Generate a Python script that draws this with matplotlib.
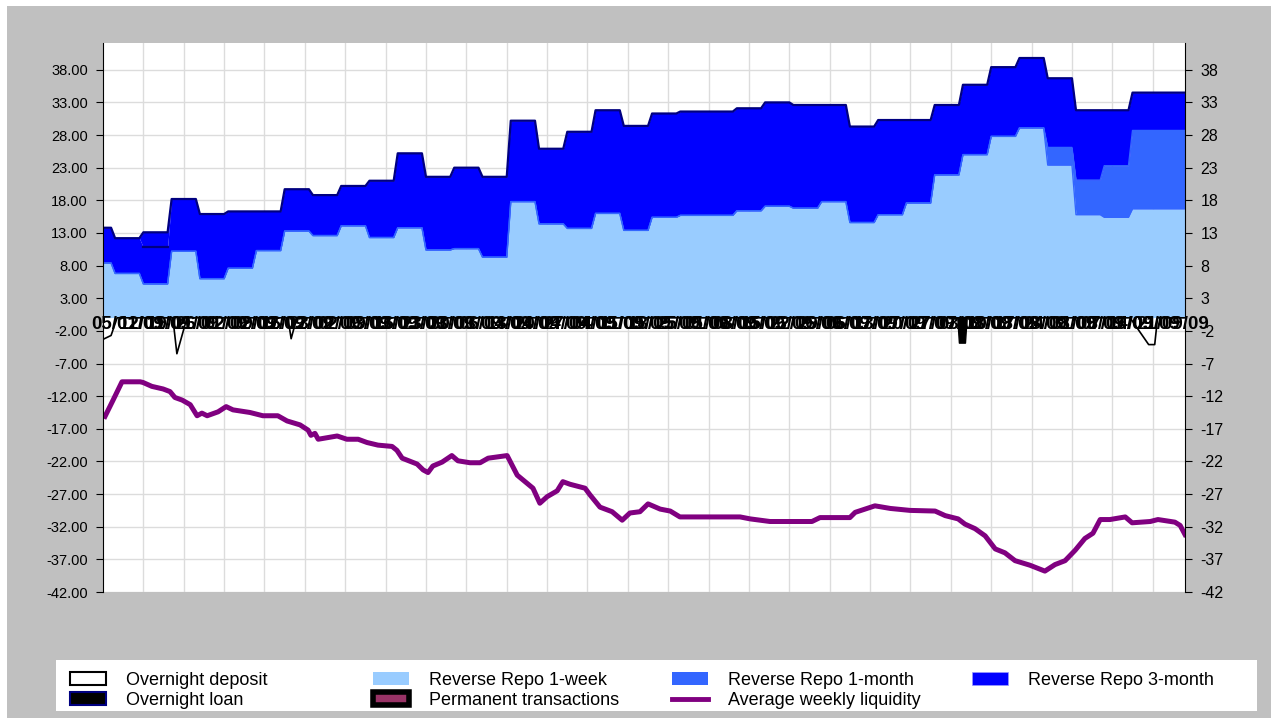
import numpy as np
import pandas as pd
import matplotlib
matplotlib.use("Agg")
import matplotlib.pyplot as plt
from matplotlib.patches import Rectangle, Patch
from matplotlib.lines import Line2D

plt.rcParams['font.family'] = ['Liberation Sans', 'DejaVu Sans']

# x values are calendar days counted from 05/01/09 (day 268 = 30/09/09)
# weekly tender levels: day each level starts, then the level per operation
step_start = [0, 3, 10, 17, 24, 31, 38, 45, 52, 59, 66, 73, 80, 87, 94, 101, 108, 115, 122,
              129, 136, 143, 150, 157, 164, 171, 178, 185, 192, 199, 206, 213, 220, 227, 234,
              241, 248, 255]
rr_1week = [8.4, 6.8, 5.2, 10.2, 6.0, 7.6, 10.3, 13.3, 12.6, 14.1, 12.3, 13.8, 10.4, 10.6, 9.3,
            17.8, 14.4, 13.7, 16.0, 13.4, 15.4, 15.7, 15.7, 16.4, 17.1, 16.8, 17.8, 14.6, 15.8,
            17.6, 21.9, 25.0, 27.8, 29.1, 23.4, 15.8, 15.4, 16.7]
rr_1month = [0] * 34 + [2.7, 5.3, 7.9, 12.0]
rr_3month = [5.4, 5.4, 5.6, 8.0, 9.9, 8.7, 6.0, 6.4, 6.2, 6.1, 8.7, 11.4, 11.2, 12.4, 12.3,
             12.4, 11.5, 14.8, 15.8, 16.0, 15.9, 15.9, 15.9, 15.7, 15.9, 15.8, 14.8, 14.7, 14.5,
             12.7, 10.7, 10.7, 10.6, 10.7, 10.6, 10.7, 8.5, 5.8]
on_loan_pos = [0, 0, 2.3] + [0] * 35

# overnight deposits (negative)
dep_days = [0, 2, 3.5, 17.3, 18.3, 20.8, 45.8, 46.6, 48, 254.4, 259, 260.5, 261.2, 268]
dep_vals = [-3.3, -2.7, 0, 0, -5.5, 0, 0, -3.2, 0, 0, -4.1, -4.1, 0, 0]

# overnight loan (negative spike)
loan_days = [211.6, 212.0, 213.5, 213.9]
loan_vals = [0, -3.8, -3.8, 0]

# average weekly liquidity
liq_days = [0.5, 2.5, 4.7, 9.2, 9.9, 12.1, 14.9, 16.6, 17.8, 19.6, 21.6, 23.3, 24.5, 25.8, 28.5,
            30.5, 32.2, 36.4, 39.6, 43.3, 45.6, 48.8, 50.8, 51.5, 52.5, 53.3, 58.0, 60.4, 63.2,
            65.4, 68.1, 71.6, 72.8, 74.1, 77.8, 79.3, 80.5, 81.7, 84.0, 86.4, 87.9, 90.9, 93.4,
            95.4, 100.1, 102.6, 106.5, 108.2, 110.0, 112.5, 113.9, 115.7, 119.4, 120.6, 123.1,
            126.1, 128.6, 130.5, 133.0, 135.0, 138.0, 140.5, 142.9, 157.8, 160.3, 165.2, 175.6,
            177.6, 185.0, 186.3, 191.2, 195.0, 199.9, 206.1, 208.6, 211.8, 213.5, 216.0, 218.5,
            221.0, 223.4, 225.9, 229.6, 233.3, 235.8, 238.3, 240.8, 243.2, 245.2, 247.0, 249.4,
            253.2, 254.9, 259.4, 261.3, 265.5, 266.8, 268.0]
liq_vals = [-15.1, -12.6, -9.8, -9.8, -9.9, -10.5, -10.9, -11.3, -12.2, -12.6, -13.3, -15.0,
            -14.6, -15.0, -14.4, -13.6, -14.1, -14.5, -15.0, -15.0, -15.8, -16.4, -17.2, -18.0,
            -17.7, -18.6, -18.1, -18.6, -18.6, -19.1, -19.5, -19.7, -20.3, -21.5, -22.4, -23.3,
            -23.7, -22.7, -22.1, -21.1, -21.9, -22.2, -22.2, -21.5, -21.1, -24.1, -26.1, -28.4,
            -27.4, -26.5, -25.1, -25.5, -26.1, -27.1, -29.0, -29.7, -31.0, -29.9, -29.7, -28.5,
            -29.3, -29.6, -30.5, -30.5, -30.8, -31.2, -31.2, -30.6, -30.6, -29.8, -28.8, -29.2,
            -29.5, -29.6, -30.3, -30.8, -31.6, -32.3, -33.4, -35.4, -36.0, -37.2, -37.9, -38.8,
            -37.8, -37.2, -35.6, -33.8, -33.0, -30.9, -30.9, -30.5, -31.4, -31.2, -30.9, -31.3,
            -31.8, -33.2]

week_labels = pd.date_range('2009-01-05', periods=38, freq='7D').strftime('%d/%m/%y')
week_pos = [d + 6 for d in range(0, 38 * 7, 7)]
yticks = list(range(-42, 39, 5))

# step outline: each level held until the day before the next one starts
ends = [s - 1 for s in step_start[1:]] + [268]
xs = np.ravel(np.column_stack([step_start, ends]))
c1 = np.repeat(rr_1week, 2)
c2 = c1 + np.repeat(rr_1month, 2)
c3 = c2 + np.repeat(rr_3month, 2)
c4 = c3 + np.repeat(on_loan_pos, 2)

W, H = 1277, 722
fig = plt.figure(figsize=(W / 100, H / 100), dpi=100, facecolor='white')
fig.patches.append(Rectangle((7 / W, 4 / H), 1264 / W, 712 / H, transform=fig.transFigure,
                             facecolor='#C0C0C0', edgecolor='none', zorder=-10))

pos = [103 / W, 130 / H, 1082 / W, 549 / H]
ax = fig.add_axes(pos, facecolor='white')

ax.fill_between(xs, 0, c1, color='#99CCFF', lw=0)
ax.fill_between(xs, c1, c2, color='#3366FF', lw=0)
ax.fill_between(xs, c2, c3, color='#0000FF', lw=0)
ax.fill_between(xs, c3, c4, color='#0000FF', lw=0)
ax.plot(xs, c1, color='#3366FF', lw=1)
ax.plot(xs, c2, color='#3366FF', lw=1)
ax.plot(xs[4:6], c3[4:6], color='#000080', lw=1.6)
ax.plot(xs, c4, color='#000080', lw=1.6)

ax.fill_between(dep_days, dep_vals, 0, color='white', lw=0)
ax.plot(dep_days, dep_vals, color='black', lw=1.2)
ax.fill_between(loan_days, loan_vals, 0, color='black', lw=1)

ax.plot(liq_days, liq_vals, color='#800080', lw=3.6, solid_joinstyle='round')

ax.set_xlim(0, 268)
ax.set_ylim(-42, 42.1)
ax.set_xticks([])
ax.set_xticks(range(10, 268, 10), minor=True)
ax.set_yticks(yticks)
ax.set_yticklabels([f'{v:.2f}' for v in yticks])
ax.tick_params(axis='x', which='minor', length=0)
ax.tick_params(axis='y', length=5, pad=6, labelsize=10.5, colors='black')
ax.grid(which='minor', axis='x', color='#DCDCDC', lw=1)
ax.grid(which='major', axis='y', color='#DCDCDC', lw=1)
ax.set_axisbelow(True)
for s in ['top', 'bottom']:
    ax.spines[s].set_visible(False)

# overlay axes for date labels (on the zero line) and right-hand ticks
ax2 = fig.add_axes(pos, facecolor='none')
ax2.spines['bottom'].set_position(('data', 0))
for s in ['top', 'bottom', 'left', 'right']:
    ax2.spines[s].set_visible(False)
ax2.set_xlim(0, 268)
ax2.set_ylim(-42, 42.1)
ax2.set_xticks(week_pos)
ax2.set_xticklabels(week_labels)
ax2.tick_params(axis='x', length=0, pad=-1, labelsize=13.5)
for t in ax2.get_xticklabels():
    t.set_fontweight('bold')
ax2.yaxis.tick_right()
ax2.set_yticks(yticks)
ax2.set_yticklabels([str(v) for v in yticks])
ax2.tick_params(axis='y', length=5, pad=6, labelsize=11.5)

# legend: white box with four fixed-width columns
fig.patches.append(Rectangle((56 / W, 11 / H), 1201 / W, 51 / H, transform=fig.transFigure,
                             facecolor='white', edgecolor='none', zorder=-5))
handles = [
    Patch(facecolor='white', edgecolor='black', lw=1.5),
    Patch(facecolor='black', edgecolor='#000080', lw=1.5),
    Patch(facecolor='#99CCFF', edgecolor='none'),
    Patch(facecolor='#993366', edgecolor='black', lw=4),
    Patch(facecolor='#3366FF', edgecolor='none'),
    Line2D([], [], color='#800080', lw=3.5),
    Patch(facecolor='#0000FF', edgecolor='#9999FF', lw=0.5),
]
labels = ['Overnight deposit', 'Overnight loan', 'Reverse Repo 1-week', 'Permanent transactions',
          'Reverse Repo 1-month', 'Average weekly liquidity', 'Reverse Repo 3-month']
col_x = [70, 373, 672, 972]
for i, x in enumerate(col_x):
    fig.legend(handles[2 * i:2 * i + 2], labels[2 * i:2 * i + 2], loc='upper left',
               bbox_to_anchor=(x / W, 1 - 672 / H), frameon=False, fontsize=13,
               handlelength=2.0, handleheight=0.7, handletextpad=1.1, labelspacing=0.17,
               borderpad=0, borderaxespad=0)

fig.savefig('out.png', dpi=100, facecolor='white')
